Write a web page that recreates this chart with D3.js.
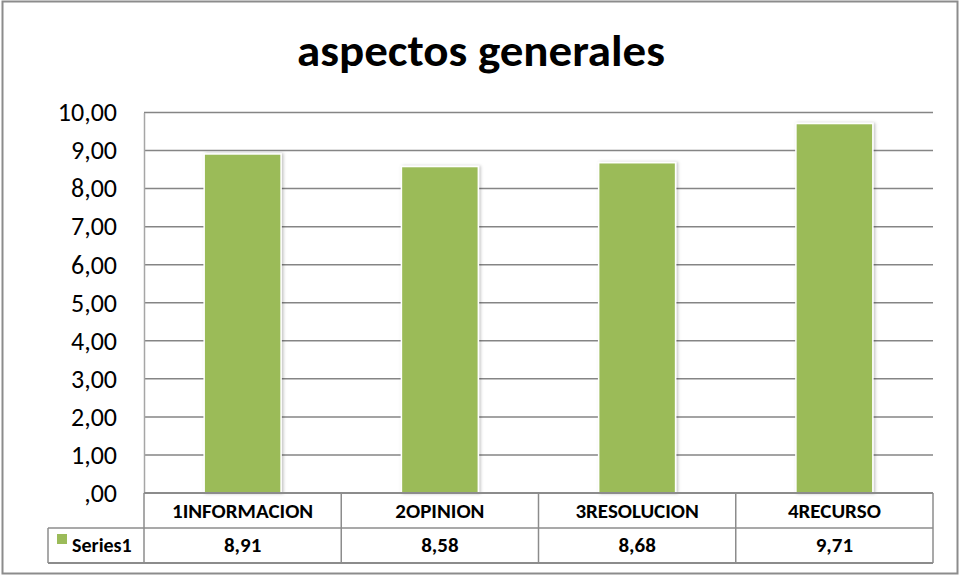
<!DOCTYPE html>
<html lang="es">
<head>
<meta charset="utf-8" />
<title>aspectos generales</title>
<script src="https://d3js.org/d3.v7.min.js"></script>
<style>
  body { margin: 0; background: #fff; }
  text { font-family: Carlito, Calibri, "Open Sans", sans-serif; fill: #000; }
</style>
</head>
<body>
<div id="chart"></div>
<script>
// data
var categories = ["1INFORMACION", "2OPINION", "3RESOLUCION", "4RECURSO"];
var series1 = [8.91, 8.58, 8.68, 9.71];
var seriesName = "Series1";
var yTicks = [0, 1, 2, 3, 4, 5, 6, 7, 8, 9, 10];

var W = 962, H = 576;
var plot = { left: 144, right: 933, top: 112.5, bottom: 493 };
var rowH = 35;

// comma decimal like the original ("8,91", ",00")
function fmt(v) {
  var s = v.toFixed(2).replace(".", ",");
  return s.indexOf("0,") === 0 ? s.slice(1) : s;
}

var svg = d3.select("#chart").append("svg")
  .attr("width", W)
  .attr("height", H);

var defs = svg.append("defs");
var f = defs.append("filter").attr("id", "shadow")
  .attr("x", "-20%").attr("y", "-5%").attr("width", "140%").attr("height", "110%");
f.append("feDropShadow").attr("dx", 1.5).attr("dy", 0).attr("stdDeviation", 1.5)
  .attr("flood-color", "#000").attr("flood-opacity", 0.25);

// outer frame
svg.append("rect")
  .attr("x", 2.5).attr("y", 1.5)
  .attr("width", 955).attr("height", 572)
  .attr("fill", "#fff")
  .attr("stroke", "#8c8c8c")
  .attr("stroke-width", 2);

// title
svg.append("text")
  .attr("x", 481).attr("y", 66)
  .attr("text-anchor", "middle")
  .attr("font-size", 45)
  .attr("font-weight", "bold")
  .attr("textLength", 368)
  .attr("lengthAdjust", "spacingAndGlyphs")
  .text("aspectos generales");

var x = d3.scaleBand()
  .domain(categories)
  .range([plot.left, plot.right])
  .paddingInner(0)
  .paddingOuter(0);

var y = d3.scaleLinear()
  .domain([0, 10])
  .range([plot.bottom, plot.top]);

// gridlines
svg.append("g")
  .selectAll("line")
  .data(yTicks.filter(function (d) { return d > 0; }))
  .enter().append("line")
  .attr("x1", plot.left).attr("x2", plot.right)
  .attr("y1", function (d) { return y(d); })
  .attr("y2", function (d) { return y(d); })
  .attr("stroke", "#858585")
  .attr("stroke-width", 1.5);

// y axis
var yAxis = svg.append("g")
  .attr("transform", "translate(" + plot.left + ",0)")
  .call(d3.axisLeft(y).tickValues(yTicks).tickFormat(fmt).tickSize(0).tickPadding(27));
yAxis.select(".domain").attr("stroke", "#a6a6a6").attr("stroke-width", 1.5);
yAxis.selectAll("text")
  .attr("font-size", 26)
  .attr("font-family", 'Carlito, Calibri, "Open Sans", sans-serif')
  .attr("fill", "#000");

// bars
var bw = x.bandwidth() * 0.39;
svg.append("g")
  .selectAll("rect")
  .data(series1)
  .enter().append("rect")
  .attr("x", function (d, i) { return x(categories[i]) + (x.bandwidth() - bw) / 2; })
  .attr("y", function (d) { return y(d); })
  .attr("width", bw)
  .attr("height", function (d) { return y(0) - y(d); })
  .attr("fill", "#9bbb59")
  .attr("stroke", "#fff")
  .attr("stroke-width", 1.5)
  .attr("filter", "url(#shadow)");

// data table
var table = svg.append("g");
var lineCol = "#8c8c8c";
var legendLeft = 48;

// horizontal lines
table.append("line")
  .attr("x1", plot.left).attr("x2", plot.right)
  .attr("y1", plot.bottom).attr("y2", plot.bottom)
  .attr("stroke", lineCol).attr("stroke-width", 2);
table.append("line")
  .attr("x1", legendLeft).attr("x2", plot.right)
  .attr("y1", plot.bottom + rowH).attr("y2", plot.bottom + rowH)
  .attr("stroke", lineCol).attr("stroke-width", 1.5);
table.append("line")
  .attr("x1", legendLeft).attr("x2", plot.right)
  .attr("y1", plot.bottom + 2 * rowH).attr("y2", plot.bottom + 2 * rowH)
  .attr("stroke", lineCol).attr("stroke-width", 2);

// vertical lines
var colEdges = categories.map(function (c) { return x(c); }).concat([plot.right]);
table.selectAll("line.v")
  .data(colEdges)
  .enter().append("line")
  .attr("class", "v")
  .attr("x1", function (d) { return d; }).attr("x2", function (d) { return d; })
  .attr("y1", plot.bottom).attr("y2", plot.bottom + 2 * rowH)
  .attr("stroke", lineCol).attr("stroke-width", 1.5);
table.append("line")
  .attr("x1", legendLeft).attr("x2", legendLeft)
  .attr("y1", plot.bottom + rowH).attr("y2", plot.bottom + 2 * rowH)
  .attr("stroke", lineCol).attr("stroke-width", 1.5);

// category labels
table.selectAll("text.cat")
  .data(categories)
  .enter().append("text")
  .attr("class", "cat")
  .attr("x", function (d) { return x(d) + x.bandwidth() / 2; })
  .attr("y", plot.bottom + 25)
  .attr("text-anchor", "middle")
  .attr("font-size", 21)
  .attr("font-weight", "bold")
  .text(function (d) { return d; });

// values
table.selectAll("text.val")
  .data(series1)
  .enter().append("text")
  .attr("class", "val")
  .attr("x", function (d, i) { return x(categories[i]) + x.bandwidth() / 2; })
  .attr("y", plot.bottom + rowH + 24)
  .attr("text-anchor", "middle")
  .attr("font-size", 21)
  .attr("font-weight", "bold")
  .text(function (d) { return fmt(d); });

// legend key
table.append("rect")
  .attr("x", 57).attr("y", plot.bottom + rowH + 6)
  .attr("width", 10).attr("height", 10)
  .attr("fill", "#9bbb59");
table.append("text")
  .attr("x", 72).attr("y", plot.bottom + rowH + 24)
  .attr("font-size", 20)
  .attr("font-weight", "bold")
  .text(seriesName);
</script>
</body>
</html>
